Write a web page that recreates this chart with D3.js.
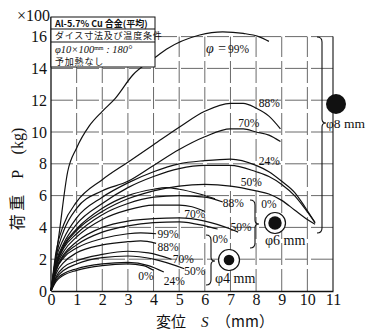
<!DOCTYPE html>
<html>
<head>
<meta charset="utf-8">
<script src="https://cdn.jsdelivr.net/npm/d3@7"></script>
<style>
  body { margin: 0; background: #fff; }
  svg { display: block; }
  text { font-family: "Liberation Serif", "DejaVu Serif", serif; fill: #111; }
  .jp { font-family: "Noto Sans CJK JP", sans-serif; }
</style>
</head>
<body>
<svg id="chart" width="367" height="332"></svg>
<script>
// axis ticks
const xTicks = [0, 1, 2, 3, 4, 5, 6, 7, 8, 9, 10, 11];
const yTicks = [0, 2, 4, 6, 8, 10, 12, 14, 16];

// φ8 mm billets  [S (mm), P (x100 kg)]
const phi8_99 = [[0,0],[0.3,3.4],[0.65,7.5],[1,9],[1.5,10.4],[2,11.3],[2.5,12.1],[3.2,13.6],[4,14.6],[4.5,15.2],[5.8,16.1],[6.7,16.3],[7.5,16.2],[8.1,16.0],[8.5,15.7]];
const phi8_88 = [[0,0],[0.2,2.5],[0.5,4.2],[1,5.6],[2,7.0],[3,8.1],[4,9.2],[5,10.3],[6,11.3],[7,11.8],[7.5,11.8],[8,11.5],[8.5,11.0],[8.95,10.2]];
const phi8_70 = [[0,0],[0.2,2.2],[0.5,3.8],[1,5.2],[2,6.3],[3,6.9],[4,7.9],[5,8.9],[6,9.7],[7,10.2],[7.5,10.2],[8,10.0],[8.5,9.8],[8.95,9.4]];
const phi8_24 = [[0,0],[0.2,2.0],[0.5,3.3],[1,4.6],[2,5.9],[3,6.8],[4,7.5],[5,8.0],[6,8.2],[7,8.3],[8,7.9],[8.5,7.5],[9,6.9],[9.5,6.2],[9.9,5.3],[10.3,4.3]];
const phi8_50 = [[0,0],[0.2,1.8],[0.5,3.0],[1,4.2],[2,5.5],[3,6.5],[4,7.2],[5,7.7],[6,7.9],[7,7.9],[8,7.5],[8.5,7.2],[9,6.7],[9.5,6.0],[9.9,5.2],[10.3,4.3]];
const phi8_0  = [[0,0],[0.2,1.6],[0.5,2.8],[1,3.8],[2,5.0],[3,5.8],[4,6.3],[5,6.6],[6,6.7],[7,6.6],[8,6.3],[8.5,6.1],[9,5.7],[9.5,5.1],[10,4.5],[10.3,4.2]];

// φ6 mm billets
const phi6_99 = [[0,0],[0.2,1.7],[0.5,2.9],[1,3.9],[2,5.2],[3,6.0],[4,6.4],[4.5,6.5],[5,6.4],[5.8,6.1],[6.4,5.8]];
const phi6_88 = [[0,0],[0.2,1.6],[0.5,2.7],[1,3.6],[2,4.8],[3,5.5],[4,5.9],[5,6.0],[6,5.9],[6.7,5.6]];
const phi6_70 = [[0,0],[0.2,1.5],[0.5,2.5],[1,3.4],[2,4.5],[3,5.1],[4,5.4],[5,5.4],[5.5,5.3],[6,5.0]];
const phi6_50 = [[0,0],[0.2,1.4],[0.5,2.3],[1,3.1],[2,4.0],[3,4.4],[4,4.55],[5,4.6],[6,4.4],[7,3.9],[7.3,3.7]];
const phi6_0  = [[0,0],[0.2,1.3],[0.5,2.2],[1,2.9],[2,3.7],[3,4.1],[4,4.3],[5,4.35],[6,4.1],[6.5,3.9]];

// φ4 mm billets
const phi4_99 = [[0,0],[0.2,1.3],[0.5,2.1],[1,2.7],[2,3.3],[3,3.6],[3.5,3.65],[4.1,3.6]];
const phi4_88 = [[0,0],[0.2,1.1],[0.5,1.8],[1,2.4],[2,2.9],[3,3.1],[3.5,3.15],[4.1,3.0]];
const phi4_70 = [[0,0],[0.2,0.9],[0.5,1.5],[1,1.9],[2,2.3],[3,2.5],[3.8,2.4],[4.7,2.0]];
const phi4_50 = [[0,0],[0.2,0.8],[0.5,1.3],[1,1.7],[2,2.1],[3,2.2],[4,2.0],[5.2,1.4]];
const phi4_24 = [[0,0],[0.2,0.7],[0.5,1.1],[1,1.4],[2,1.7],[3,1.8],[3.8,1.6],[4.4,1.2]];
const phi4_0  = [[0,0],[0.2,0.6],[0.5,1.0],[1,1.3],[2,1.6],[3,1.7],[3.6,1.6],[4.0,1.3]];

const series = [phi8_99, phi8_88, phi8_70, phi8_24, phi8_50, phi8_0,
                phi6_99, phi6_88, phi6_70, phi6_50, phi6_0,
                phi4_99, phi4_88, phi4_70, phi4_50, phi4_24, phi4_0];

// curve labels: [S, P, text]
const curveLabels = [
  [6.9, 15.0, "99%"],
  [8.1, 11.6, "88%"], [7.3, 10.3, "70%"], [8.1, 7.9, "24%"], [7.4, 6.6, "50%"], [8.2, 5.2, "0%"],
  [6.7, 5.3, "88%"], [5.2, 4.6, "70%"], [7.0, 3.8, "50%"], [6.3, 3.0, "0%"],
  [4.15, 3.35, "99%"], [4.15, 2.5, "88%"], [4.75, 1.75, "70%"], [5.2, 1.0, "50%"], [3.4, 0.7, "0%"], [4.4, 0.35, "24%"]
];

const svg = d3.select("#chart");

const x = d3.scaleLinear().domain([0, 11]).range([51, 333]);
const y = d3.scaleLinear().domain([0, 16]).range([291, 36.6]);

// grid
const grid = svg.append("g").attr("class", "grid");
grid.selectAll("line.v").data(d3.range(1, 11)).enter().append("line")
  .attr("x1", d => x(d)).attr("x2", d => x(d))
  .attr("y1", y(0)).attr("y2", y(16))
  .attr("stroke", "#444").attr("stroke-width", 0.8).attr("stroke-dasharray", "22,4");
grid.selectAll("line.h").data(d3.range(2, 17, 2)).enter().append("line")
  .attr("x1", x(0)).attr("x2", x(11))
  .attr("y1", d => y(d)).attr("y2", d => y(d))
  .attr("stroke", "#444").attr("stroke-width", 0.8).attr("stroke-dasharray", "22,4");

// axes
const xAxis = d3.axisBottom(x).tickValues(xTicks).tickSize(0).tickPadding(3);
const gx = svg.append("g").attr("transform", `translate(0,${y(0)})`).call(xAxis);
gx.select(".domain").attr("stroke", "#111").attr("stroke-width", 1.3);
gx.selectAll("text").attr("font-size", 16).attr("font-family", "Liberation Serif").attr("fill", "#111");

const yAxis = d3.axisLeft(y).tickValues(yTicks).tickSize(0).tickPadding(4);
const gy = svg.append("g").attr("transform", `translate(${x(0)},0)`).call(yAxis);
gy.select(".domain").remove();
gy.selectAll("text").attr("font-size", 16).attr("font-family", "Liberation Serif").attr("fill", "#111");
svg.append("line").attr("x1", x(0)).attr("x2", x(0)).attr("y1", 17).attr("y2", y(0))
  .attr("stroke", "#111").attr("stroke-width", 1.3);
svg.append("line").attr("x1", x(11)).attr("x2", x(11)).attr("y1", y(16)).attr("y2", y(0))
  .attr("stroke", "#111").attr("stroke-width", 1.1);

svg.append("text").attr("x", 50).attr("y", 21).attr("text-anchor", "end")
  .attr("font-size", 16).text("×100");

// curves
const line = d3.line().x(d => x(d[0])).y(d => y(d[1])).curve(d3.curveMonotoneX);
svg.append("g").selectAll("path").data(series).enter().append("path")
  .attr("d", line).attr("fill", "none").attr("stroke", "#111").attr("stroke-width", 1.2);

// curve labels
svg.append("g").selectAll("text").data(curveLabels).enter().append("text")
  .attr("x", d => x(d[0])).attr("y", d => y(d[1]))
  .attr("font-size", 11.5).text(d => d[2]);
svg.append("text").attr("x", x(6.85)).attr("y", y(15.0)).attr("font-size", 14)
  .attr("text-anchor", "end").attr("font-style", "italic").text("φ = ");

// condition box
const box = svg.append("g");
box.append("rect").attr("x", x(0)).attr("y", 17).attr("width", 104).attr("height", 50)
  .attr("fill", "#fff").attr("stroke", "#111").attr("stroke-width", 1);
box.append("line").attr("x1", x(0)).attr("x2", x(0) + 104).attr("y1", 29).attr("y2", 29).attr("stroke", "#111");
box.append("line").attr("x1", x(0)).attr("x2", x(0) + 104).attr("y1", 42).attr("y2", 42).attr("stroke", "#111");
box.append("text").attr("class", "jp").attr("x", 55).attr("y", 26.5).attr("font-size", 9).attr("font-weight", 700).text("Al-5.7% Cu 合金(平均)");
box.append("text").attr("class", "jp").attr("x", 55).attr("y", 39).attr("font-size", 9).attr("letter-spacing", 0.8).text("ダイス寸法及び温度条件");
const r3 = box.append("text").attr("x", 55).attr("y", 53).attr("font-size", 10.5).attr("font-style", "italic");
r3.append("tspan").text("φ10×100");
r3.append("tspan").attr("font-size", 6).attr("font-style", "normal").attr("dy", -3).text("mm");
r3.append("tspan").attr("dy", 3).text(" : 180°");
box.append("text").attr("class", "jp").attr("x", 55).attr("y", 64.5).attr("font-size", 9).attr("letter-spacing", 0.8).text("予加熱なし");

// braces: [x, top, cusp, bottom]
function brace(xp, y0, m, y1) {
  return `M${xp - 5},${y0} Q${xp},${y0} ${xp},${y0 + 5} L${xp},${m - 4} Q${xp},${m} ${xp + 4},${m}` +
         ` Q${xp},${m} ${xp},${m + 4} L${xp},${y1 - 5} Q${xp},${y1} ${xp - 5},${y1}`;
}
const braces = [[322, 37, 123, 233], [255, 200, 224, 248], [211, 235, 261, 285]];
svg.append("g").selectAll("path").data(braces).enter().append("path")
  .attr("d", d => brace(d[0], d[1], d[2], d[3])).attr("fill", "none").attr("stroke", "#111").attr("stroke-width", 1.1);

// billet symbols
svg.append("circle").attr("cx", 336).attr("cy", 104).attr("r", 10).attr("fill", "#111");
svg.append("circle").attr("cx", 275).attr("cy", 223).attr("r", 10.5).attr("fill", "#fff").attr("stroke", "#111").attr("stroke-width", 1.2);
svg.append("circle").attr("cx", 275).attr("cy", 223).attr("r", 6.7).attr("fill", "#111");
svg.append("circle").attr("cx", 229).attr("cy", 260).attr("r", 10.5).attr("fill", "#fff").attr("stroke", "#111").attr("stroke-width", 1.2);
svg.append("circle").attr("cx", 229).attr("cy", 260).attr("r", 5.3).attr("fill", "#111");
svg.append("text").attr("x", 326).attr("y", 128).attr("font-size", 13.5).text("φ8 mm");
svg.append("text").attr("x", 265).attr("y", 245).attr("font-size", 14).text("φ6 mm");
svg.append("text").attr("x", 215).attr("y", 283).attr("font-size", 14).text("φ4 mm");

// axis titles
const xt = svg.append("text").attr("x", 215).attr("y", 327).attr("text-anchor", "middle").attr("font-size", 15);
xt.append("tspan").attr("class", "jp").text("変位　");
xt.append("tspan").attr("font-style", "italic").text("S");
xt.append("tspan").attr("class", "jp").text("　（mm）");
const yt = svg.append("text").attr("transform", "translate(23,179) rotate(-90)").attr("text-anchor", "middle").attr("font-size", 16);
yt.append("tspan").attr("class", "jp").text("荷 重　");
yt.append("tspan").text("P　(kg)");
</script>
</body>
</html>
